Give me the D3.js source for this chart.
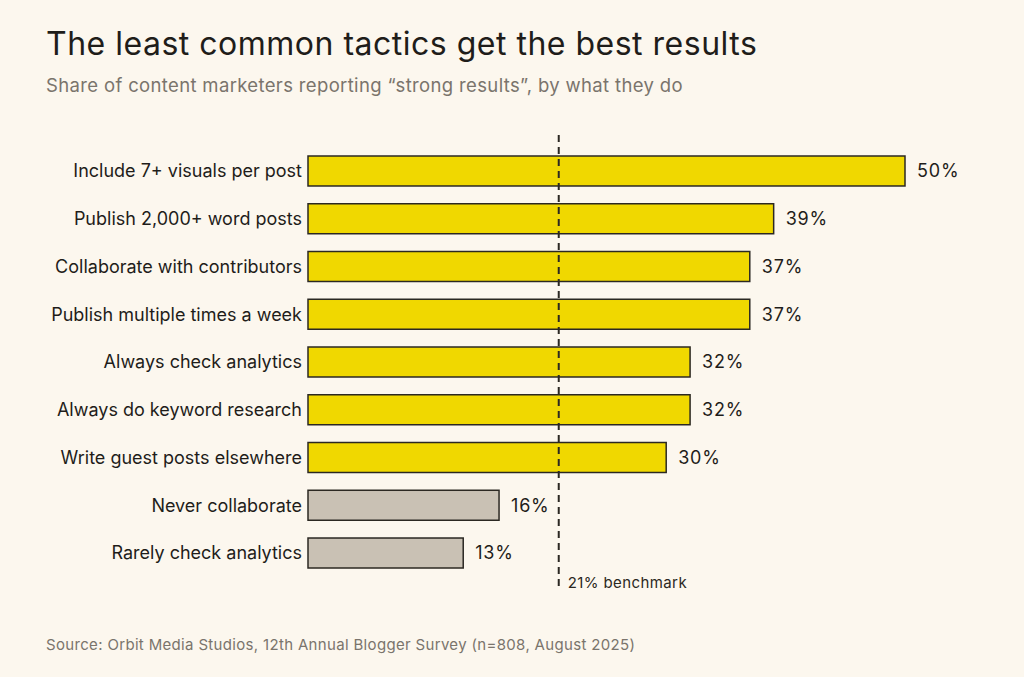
<!DOCTYPE html>
<html>
<head>
<meta charset="utf-8">
<script src="https://cdn.jsdelivr.net/npm/d3@7"></script>
<style>
  body { margin: 0; background: #fcf7ee; }
  svg { display: block; font-family: Inter, "Noto Sans", sans-serif; }
</style>
</head>
<body>
<div id="chart"></div>
<script>
var width = 1024;
var height = 677;

// data
var tactics = [
    "Include 7+ visuals per post",
    "Publish 2,000+ word posts",
    "Collaborate with contributors",
    "Publish multiple times a week",
    "Always check analytics",
    "Always do keyword research",
    "Write guest posts elsewhere",
    "Never collaborate",
    "Rarely check analytics"
];
var strongResults = [50, 39, 37, 37, 32, 32, 30, 16, 13];
var isCommonTactic = [false, false, false, false, false, false, false, true, true];
var benchmark = 21;

var svgCanvas = d3.select("#chart")
    .append("svg")
    .attr("width", width)
    .attr("height", height);

svgCanvas.append("rect")
    .attr("width", width)
    .attr("height", height)
    .attr("fill", "#fcf7ee");

var xScale = d3.scaleLinear()
    .domain([0, 50])
    .range([308, 905]);

var yScale = d3.scaleBand()
    .domain(tactics)
    .range([156, 568])
    .paddingInner(0.372)
    .paddingOuter(0);

var rows = tactics.map(function(t, k) {
    return { name: t, value: strongResults[k], grey: isCommonTactic[k] };
});

// title + subtitle
svgCanvas.append("text")
    .attr("x", 46)
    .attr("y", 55)
    .attr("font-size", 32)
    .attr("letter-spacing", 0.5)
    .attr("fill", "#1f1d1a")
    .text("The least common tactics get the best results");

svgCanvas.append("text")
    .attr("x", 46)
    .attr("y", 92)
    .attr("font-size", 18.5)
    .attr("letter-spacing", 0.35)
    .attr("fill", "#7a746c")
    .text("Share of content marketers reporting \u201cstrong results\u201d, by what they do");

// bars
svgCanvas.selectAll("rect.bar")
    .data(rows)
    .enter()
    .append("rect")
    .attr("class", "bar")
    .attr("x", xScale(0))
    .attr("y", function(d) { return yScale(d.name); })
    .attr("width", function(d) { return xScale(d.value) - xScale(0); })
    .attr("height", yScale.bandwidth())
    .attr("fill", function(d) { return d.grey ? "#c9c1b4" : "#f0d800"; })
    .attr("stroke", "#2b2822")
    .attr("stroke-width", 1.5);

// category labels
svgCanvas.selectAll("text.catLabel")
    .data(rows)
    .enter()
    .append("text")
    .attr("class", "catLabel")
    .attr("x", 302)
    .attr("y", function(d) { return yScale(d.name) + yScale.bandwidth() / 2; })
    .attr("dy", "0.35em")
    .attr("text-anchor", "end")
    .attr("font-size", 18)
    .attr("fill", "#1f1d1a")
    .text(function(d) { return d.name; });

// value labels
svgCanvas.selectAll("text.valLabel")
    .data(rows)
    .enter()
    .append("text")
    .attr("class", "valLabel")
    .attr("x", function(d) { return xScale(d.value) + 12; })
    .attr("y", function(d) { return yScale(d.name) + yScale.bandwidth() / 2; })
    .attr("dy", "0.35em")
    .attr("font-size", 18)
    .attr("letter-spacing", 0.8)
    .attr("fill", "#1f1d1a")
    .text(function(d) { return d.value + "%"; });

// benchmark line
svgCanvas.append("line")
    .attr("x1", xScale(benchmark))
    .attr("x2", xScale(benchmark))
    .attr("y1", 135)
    .attr("y2", 590)
    .attr("stroke", "#2b2822")
    .attr("stroke-width", 2)
    .attr("stroke-dasharray", "7,5");

svgCanvas.append("text")
    .attr("x", xScale(benchmark) + 9)
    .attr("y", 588)
    .attr("font-size", 15)
    .attr("letter-spacing", 0.4)
    .attr("fill", "#2b2822")
    .text(benchmark + "% benchmark");

// source
svgCanvas.append("text")
    .attr("x", 46)
    .attr("y", 650)
    .attr("font-size", 15)
    .attr("letter-spacing", 0.33)
    .attr("fill", "#7a746c")
    .text("Source: Orbit Media Studios, 12th Annual Blogger Survey (n=808, August 2025)");
</script>
</body>
</html>
